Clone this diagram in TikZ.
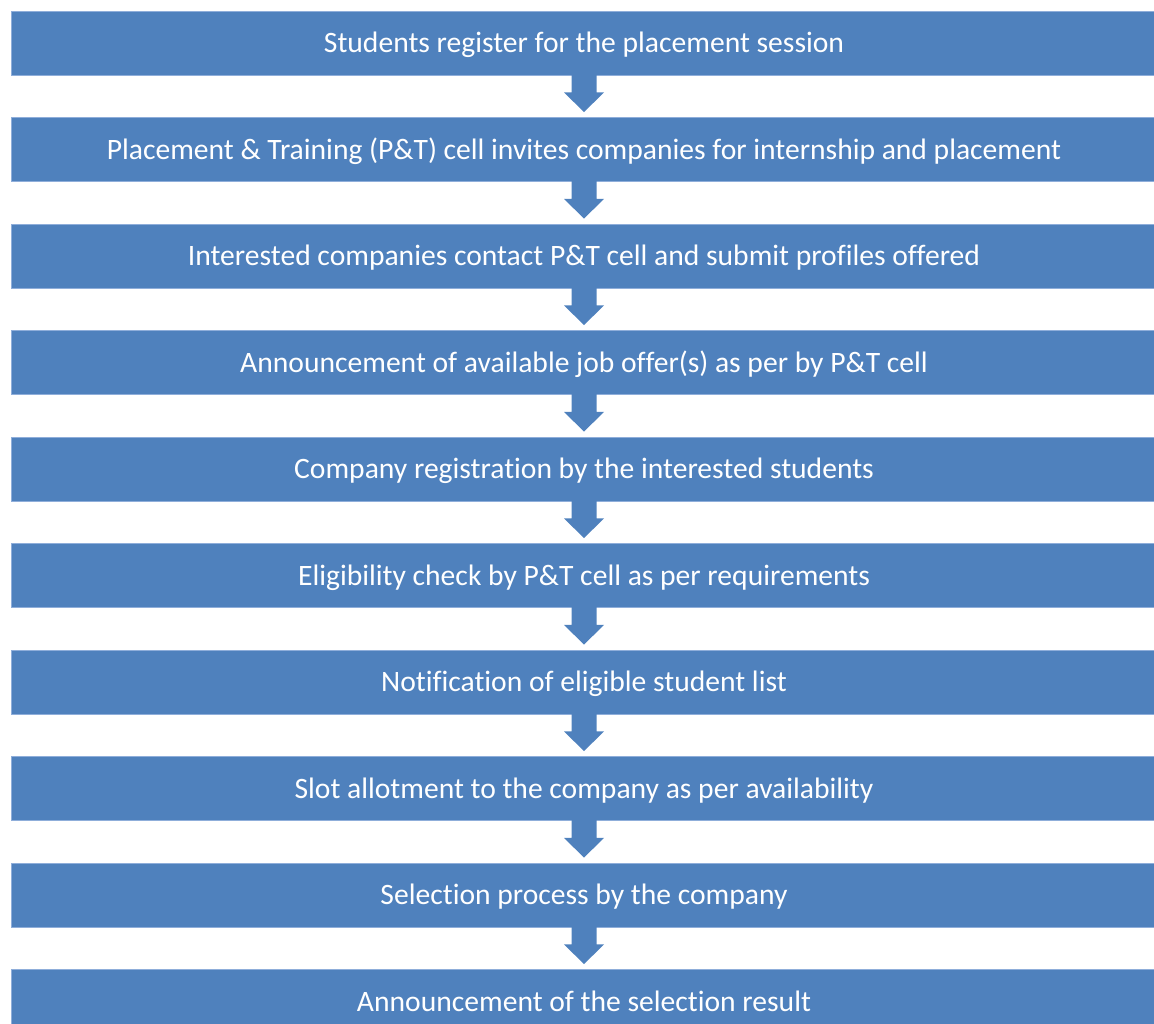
\documentclass[tikz,border=0pt]{standalone}
\usepackage{fontspec}
\setmainfont[Ligatures=NoCommon]{Carlito}
\usetikzlibrary{calc}
\definecolor{stepblue}{HTML}{4F81BD}
\definecolor{stepedge}{HTML}{8FAEDA}
\tikzset{
  stepbox/.style={rectangle, fill=stepblue, draw=stepedge, line width=0.8pt,
    minimum width=1146pt, minimum height=64pt, inner sep=0pt,
    text height=19pt, text depth=0pt,
    text=white, font=\fontsize{29.6}{34}\selectfont},
  downarrow/.style={fill=stepblue},
}
% block arrow from the bottom of one step to the top of the next
\newcommand{\flowarrow}[2]{%
  \fill[downarrow]
    ([xshift=-12.5pt,yshift=1pt]#1.south) --
    ([xshift=-12.5pt,yshift=-17pt]#1.south) --
    ([xshift=-20pt,yshift=-17pt]#1.south) --
    ([yshift=5pt]#2.north) --
    ([xshift=20pt,yshift=-17pt]#1.south) --
    ([xshift=12.5pt,yshift=-17pt]#1.south) --
    ([xshift=12.5pt,yshift=1pt]#1.south) -- cycle;}
\begin{document}
\begin{tikzpicture}[x=1pt,y=-1pt]
  \useasboundingbox (0,0) rectangle (1154,1023);
  \begin{scope}
    \clip (0,0) rectangle (1154,1023);
    \node[stepbox] (b1)  at (584,43)   {Students register for the placement session};
    \node[stepbox] (b2)  at (584,149.5) {Placement \& Training (P\&T) cell invites companies for internship and placement};
    \node[stepbox] (b3)  at (584,256)  {Interested companies contact P\&T cell and submit profiles offered};
    \node[stepbox] (b4)  at (584,362.5) {Announcement of available job offer(s) as per by P\&T cell};
    \node[stepbox] (b5)  at (584,469)  {Company registration by the interested students};
    \node[stepbox] (b6)  at (584,575.5) {Eligibility check by P\&T cell as per requirements};
    \node[stepbox] (b7)  at (584,682)  {Notification of eligible student list};
    \node[stepbox] (b8)  at (584,788.5) {Slot allotment to the company as per availability};
    \node[stepbox] (b9)  at (584,895)  {Selection process by the company};
    \node[stepbox] (b10) at (584,1001.5) {Announcement of the selection result};
    \flowarrow{b1}{b2}
    \flowarrow{b2}{b3}
    \flowarrow{b3}{b4}
    \flowarrow{b4}{b5}
    \flowarrow{b5}{b6}
    \flowarrow{b6}{b7}
    \flowarrow{b7}{b8}
    \flowarrow{b8}{b9}
    \flowarrow{b9}{b10}
  \end{scope}
\end{tikzpicture}
\end{document}
